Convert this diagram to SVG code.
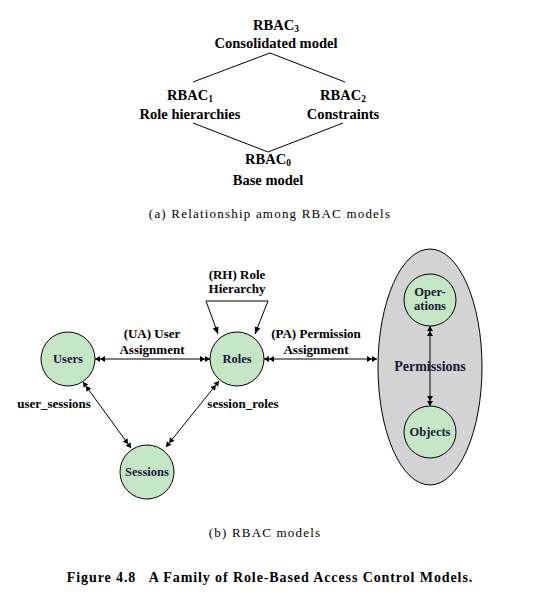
<svg xmlns="http://www.w3.org/2000/svg" width="539" height="601" viewBox="0 0 539 601">
<style>
.t{font-family:"Liberation Serif","Times New Roman",serif;font-weight:bold;font-size:13px;fill:#000;text-anchor:middle}
.a{font-family:"Liberation Serif","Times New Roman",serif;font-weight:bold;font-size:14.5px;fill:#000;text-anchor:middle}
.n{font-family:"Liberation Serif","Times New Roman",serif;font-weight:bold;font-size:12.5px;fill:#1a1a3a;text-anchor:middle}
.c{font-family:"Liberation Serif","Times New Roman",serif;font-size:13px;letter-spacing:1.2px;fill:#000;text-anchor:middle}
.ln{stroke:#000;stroke-width:1;fill:none}
.circ{fill:#c4e6c4;stroke:#000;stroke-width:1}
.arr{stroke:#000;stroke-width:1;fill:none;marker-start:url(#dbl);marker-end:url(#dbl)}
</style>
<defs>
<marker id="dbl" viewBox="-12 -4 12 8" refX="0" refY="0" markerWidth="12" markerHeight="8" markerUnits="userSpaceOnUse" orient="auto-start-reverse">
<path d="M0,0 L-5,-3 L-5,3 Z M-5,0 L-10,-3 L-10,3 Z" fill="#000"/>
</marker>
<marker id="one" viewBox="-8 -4 8 8" refX="0" refY="0" markerWidth="8" markerHeight="8" markerUnits="userSpaceOnUse" orient="auto">
<path d="M0,0 L-7,-3 L-7,3 Z" fill="#000"/>
</marker>
</defs>
<!-- Part (a) -->
<g id="lattice">
<polyline class="ln" points="193,82 270,53 345,82"/>
<polyline class="ln" points="193,123 268,152 343,123"/>
</g>
<g id="rbac3">
<text class="a" x="276" y="30">RBAC<tspan font-size="9.5" dy="2">3</tspan></text>
<text class="a" x="276" y="48">Consolidated model</text>
</g>
<g id="rbac1">
<text class="a" x="190" y="100">RBAC<tspan font-size="9.5" dy="2">1</tspan></text>
<text class="a" x="190" y="119">Role hierarchies</text>
</g>
<g id="rbac2">
<text class="a" x="343" y="100">RBAC<tspan font-size="9.5" dy="2">2</tspan></text>
<text class="a" x="343" y="119">Constraints</text>
</g>
<g id="rbac0">
<text class="a" x="268" y="164">RBAC<tspan font-size="9.5" dy="2">0</tspan></text>
<text class="a" x="268" y="185">Base model</text>
</g>
<text class="c" x="270" y="218">(a) Relationship among RBAC models</text>
<!-- Part (b) -->
<g id="permissions">
<ellipse cx="430" cy="367" rx="52" ry="118" fill="#d3d3d3" stroke="#000" stroke-width="1"/>
<text class="t" x="430" y="371" style="font-size:14px;fill:#1a1a3a">Permissions</text>
</g>
<g id="connectors">
<line class="arr" x1="95" y1="359" x2="210" y2="359"/>
<line class="arr" x1="264" y1="359" x2="377" y2="359"/>
<line class="arr" x1="83" y1="382" x2="131" y2="448"/>
<line class="arr" x1="219" y1="381" x2="166" y2="447"/>
<line class="arr" x1="430" y1="326" x2="430" y2="406"/>
<polyline class="ln" points="206,301 268,301 255,334" marker-end="url(#one)"/>
<line class="ln" x1="206" y1="301" x2="218" y2="334" marker-end="url(#one)"/>
</g>
<g id="users">
<circle class="circ" cx="68" cy="359" r="27"/>
<text class="n" x="68" y="363">Users</text>
</g>
<g id="roles">
<circle class="circ" cx="237" cy="359" r="27"/>
<text class="n" x="237" y="363">Roles</text>
</g>
<g id="sessions">
<circle class="circ" cx="147" cy="472" r="27"/>
<text class="n" x="147" y="476">Sessions</text>
</g>
<g id="operations">
<circle class="circ" cx="430" cy="300" r="26"/>
<text class="n" x="430" y="296">Oper-</text>
<text class="n" x="430" y="310">ations</text>
</g>
<g id="objects">
<circle class="circ" cx="430" cy="432" r="26"/>
<text class="n" x="430" y="436">Objects</text>
</g>
<g id="labels">
<text class="t" x="237" y="279">(RH) Role</text>
<text class="t" x="237" y="293">Hierarchy</text>
<text class="t" x="152" y="338">(UA) User</text>
<text class="t" x="152" y="354">Assignment</text>
<text class="t" x="316" y="338">(PA) Permission</text>
<text class="t" x="316" y="354">Assignment</text>
<text class="t" x="54" y="408">user_sessions</text>
<text class="t" x="243" y="408">session_roles</text>
</g>
<text class="c" x="265" y="537">(b) RBAC models</text>
<text class="t" x="270" y="582" xml:space="preserve" style="font-size:14px;letter-spacing:0.9px">Figure 4.8   A Family of Role-Based Access Control Models.</text>
</svg>
